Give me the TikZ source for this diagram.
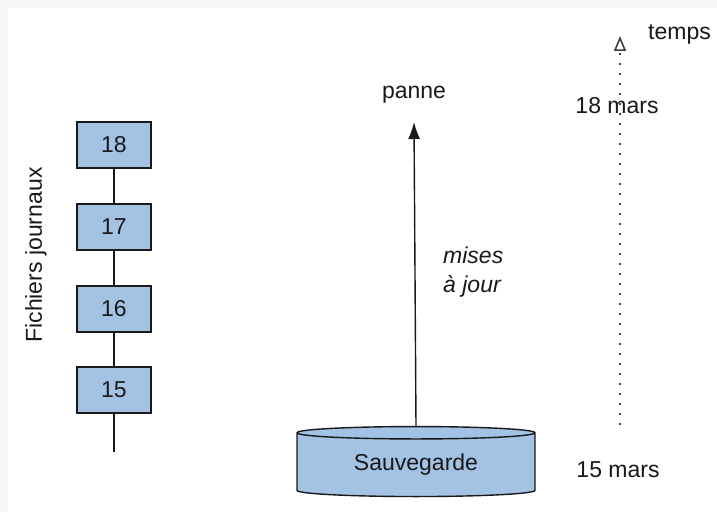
\documentclass[tikz,border=0pt]{standalone}
\usepackage{fontspec}
\setmainfont{Liberation Sans}
\usepackage{xcolor}
\usepackage{tikz}
\usetikzlibrary{shapes.geometric, arrows.meta, positioning, calc}

\definecolor{logblue}{RGB}{164,194,228}
\definecolor{framegray}{RGB}{247,247,247}

\begin{document}
\begin{tikzpicture}[
  x=1pt, y=1pt,
  txt/.style={font=\fontsize{23}{27}\selectfont, text=black!90, inner sep=0pt},
  logfile/.style={txt, draw=black!90, line width=1.4pt, fill=logblue,
    minimum width=74pt, minimum height=46pt},
  backup/.style={txt, cylinder, shape border rotate=90, draw=black!90,
    line width=1.4pt, fill=logblue, aspect=0.1,
    minimum width=238pt, minimum height=70pt},
  link/.style={black!90, line width=1.4pt},
]

%% Frame
\fill[framegray] (0,0) rectangle (717,512);
\fill[white] (8,0) rectangle (717,504);
\useasboundingbox (0,0) rectangle (717,512);

%% Log files
\node[logfile] (j18) at (114,367) {18};
\node[logfile] (j17) at (114,285) {17};
\node[logfile] (j16) at (114,203) {16};
\node[logfile] (j15) at (114,122) {15};
\coordinate (jend) at (114,60);
\draw[link] (j18) -- (j17);
\draw[link] (j17) -- (j16);
\draw[link] (j16) -- (j15);
\draw[link] (j15) -- (jend);
\node[txt, rotate=90] (journaux) at (36,257) {Fichiers journaux};

%% Backup and updates
\node[backup] (sauv) at (416,47) {Sauvegarde};
\node[txt] (panne) at (414,417) {panne};
\coordinate (crash) at (414,390);
\draw[link, -{Latex[length=17pt, width=12pt]}] (sauv.top) -- (crash);
\node[txt, font=\fontsize{23}{27}\selectfont\itshape, align=left,
  anchor=west] (maj) at (443,240) {mises\\[2pt]à jour};

%% Time axis
\coordinate (t0) at (620,87);
\coordinate (t1) at (620,476);
\draw[black!75, line width=1.4pt, dash pattern=on 1.6pt off 8.4pt,
  -{Triangle[open, length=15pt, width=12pt, line width=1.6pt]}] (t0) -- (t1);
\node[txt, anchor=west] (temps) at (648,478) {temps};
\node[txt] (d18) at (617,406) {18 mars};
\node[txt] (d15) at (618,42) {15 mars};

\end{tikzpicture}
\end{document}
